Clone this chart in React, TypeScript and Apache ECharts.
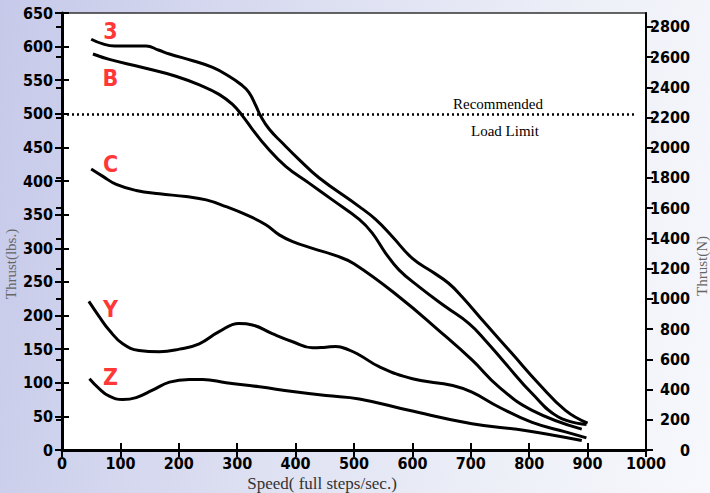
import React, { useEffect, useRef } from "react";
import * as echarts from "echarts";

// ---- data (speed in full steps/sec, thrust in lbs) ----
const speed3 = [50, 70, 90, 144, 165, 184, 224, 258, 286, 306, 320, 332, 340, 355, 377, 406, 440, 509, 537, 565, 600, 634, 662, 685, 725, 771, 816, 862, 900];
const thrust3 = [611, 604, 601, 601, 595, 589, 579, 569, 556, 544, 532, 512, 497, 477, 457, 432, 405, 362, 343, 318, 285, 265, 248, 228, 188, 143, 99, 59, 40];

const speedB = [53, 81, 138, 195, 241, 269, 292, 309, 326, 349, 383, 423, 463, 509, 531, 554, 577, 611, 657, 697, 725, 759, 805, 850, 898];
const thrustB = [589, 581, 569, 556, 541, 529, 514, 497, 477, 452, 422, 397, 372, 343, 323, 293, 268, 243, 213, 188, 163, 129, 84, 49, 38];

const speedC = [50, 70, 93, 127, 167, 212, 247, 281, 315, 349, 372, 395, 429, 469, 500, 577, 645, 702, 748, 805, 890];
const thrustC = [418, 407, 395, 386, 381, 377, 372, 362, 350, 335, 320, 310, 300, 289, 277, 228, 178, 134, 94, 59, 31];

const speedY = [46, 64, 81, 104, 132, 167, 201, 235, 269, 303, 326, 360, 395, 429, 452, 469, 491, 510, 543, 600, 669, 702, 748, 805, 862, 898];
const thrustY = [221, 198, 178, 158, 148, 146, 150, 158, 176, 188, 186, 173, 161, 152, 153, 154, 149, 141, 124, 106, 96, 86, 64, 41, 27, 18];

const speedZ = [47, 64, 81, 104, 127, 155, 184, 218, 241, 281, 338, 395, 452, 509, 594, 702, 793, 890];
const thrustZ = [106, 91, 80, 75, 78, 89, 101, 105, 105, 100, 94, 87, 81, 76, 59, 39, 29, 14];

const curveNames = ["3", "B", "C", "Y", "Z"];
const labelSpeed = [83, 83, 83, 83, 83];
const labelThrust = [623, 553, 425, 209, 108];

const loadLimit = 500;
const loadLimitEnd = 980;

const newtonTicks = [0, 200, 400, 600, 800, 1000, 1200, 1400, 1600, 1800, 2000, 2200, 2400, 2600, 2800];
const LBS_TO_N = 4.4482;

const zip = (xs: number[], ys: number[]) => xs.map((x, i) => [x, ys[i]]);

const tickFont = {
  fontFamily: "'DejaVu Sans Condensed', 'Liberation Sans Narrow', sans-serif",
  fontWeight: "bold" as const,
  color: "#000",
  formatter: (v: number) => String(Math.round(v)),
};

export default function App() {
  const ref = useRef<HTMLDivElement>(null);

  useEffect(() => {
    if (!ref.current) return;
    const chart = echarts.init(ref.current, undefined, { renderer: "svg" });

    const lineSeries = (name: string, xs: number[], ys: number[], extra: any = {}) => ({
      name,
      type: "line",
      data: zip(xs, ys),
      smooth: 0.45,
      symbol: "none",
      lineStyle: { color: "#000", width: 3 },
      xAxisIndex: 0,
      yAxisIndex: 0,
      z: 3,
      ...extra,
    });

    chart.setOption({
      animation: false,
      grid: {
        left: 62,
        right: 64,
        top: 13,
        bottom: 43,
        show: true,
        backgroundColor: "#ffffff",
        borderColor: "#333",
        borderWidth: 1.5,
      },
      xAxis: [
        {
          type: "value",
          min: 0,
          max: 1000,
          interval: 100,
          position: "bottom",
          axisLine: { onZero: false, lineStyle: { color: "#000", width: 3 } },
          axisTick: { length: 7, lineStyle: { color: "#000", width: 2 } },
          axisLabel: { ...tickFont, fontSize: 16, margin: 5 },
          splitLine: { show: false },
        },
        {
          type: "value",
          min: 0,
          max: 1000,
          interval: 100,
          position: "bottom",
          axisLine: { show: false, onZero: false },
          axisTick: { inside: true, length: 7, lineStyle: { color: "#000", width: 2 } },
          axisLabel: { show: false },
          splitLine: { show: false },
        },
      ],
      yAxis: [
        {
          type: "value",
          min: 0,
          max: 650,
          interval: 50,
          position: "left",
          axisLine: { show: true, onZero: false, lineStyle: { color: "#000", width: 3 } },
          axisTick: { show: true, length: 7, lineStyle: { color: "#000", width: 2 } },
          axisLabel: { ...tickFont, fontSize: 16, margin: 9 },
          splitLine: { show: false },
        },
        {
          type: "value",
          min: 0,
          max: 650 * LBS_TO_N,
          position: "right",
          axisLine: { show: true, onZero: false, lineStyle: { color: "#000", width: 2 } },
          axisTick: { show: true, length: 7, customValues: newtonTicks, lineStyle: { color: "#000", width: 2 } },
          axisLabel: { ...tickFont, fontSize: 16, margin: 44, align: "right", customValues: newtonTicks },
          splitLine: { show: false },
        },
        {
          type: "value",
          min: 0,
          max: 650,
          interval: 50,
          position: "left",
          axisLine: { show: false },
          axisTick: { show: true, inside: true, length: 7, lineStyle: { color: "#000", width: 2 } },
          axisLabel: { show: false },
          splitLine: { show: false },
        },
        {
          type: "value",
          min: 0,
          max: 650 * LBS_TO_N,
          position: "right",
          axisLine: { show: false },
          axisTick: { show: true, inside: true, length: 6, customValues: newtonTicks, lineStyle: { color: "#000", width: 2 } },
          axisLabel: { show: false },
          splitLine: { show: false },
        },
      ],
      series: [
        lineSeries("3", speed3, thrust3, {
          markLine: {
            silent: true,
            symbol: "none",
            label: { show: false },
            lineStyle: { color: "#000", width: 2.5, type: [2, 3] },
            data: [[{ coord: [0, loadLimit] }, { coord: [loadLimitEnd, loadLimit] }]],
          },
        }),
        lineSeries("B", speedB, thrustB),
        lineSeries("C", speedC, thrustC),
        lineSeries("Y", speedY, thrustY),
        lineSeries("Z", speedZ, thrustZ),
        {
          type: "scatter",
          xAxisIndex: 0,
          yAxisIndex: 0,
          symbolSize: 1,
          itemStyle: { color: "rgba(0,0,0,0)" },
          data: curveNames.map((n, i) => [labelSpeed[i], labelThrust[i], n]),
          label: {
            show: true,
            position: "inside",
            formatter: (p: any) => p.data[2],
            fontFamily: "'DejaVu Sans Condensed', 'Liberation Sans Narrow', sans-serif",
            fontWeight: "bold",
            fontSize: 23,
            color: "#ff0000",
          },
          z: 4,
        },
      ],
      graphic: [
        {
          type: "text",
          left: 453,
          top: 96,
          style: { text: "Recommended", font: "15px 'Liberation Serif', 'DejaVu Serif', serif", fill: "#000" },
        },
        {
          type: "text",
          left: 471,
          top: 123,
          style: { text: "Load Limit", font: "15px 'Liberation Serif', 'DejaVu Serif', serif", fill: "#000" },
        },
        {
          type: "text",
          x: 11,
          y: 264,
          rotation: Math.PI / 2,
          style: {
            text: "Thrust(lbs.)",
            font: "15px 'Liberation Serif', 'DejaVu Serif', serif",
            fill: "#666",
            align: "center",
            verticalAlign: "middle",
          },
        },
        {
          type: "text",
          x: 702,
          y: 266,
          rotation: Math.PI / 2,
          style: {
            text: "Thrust(N)",
            font: "15px 'Liberation Serif', 'DejaVu Serif', serif",
            fill: "#666",
            align: "center",
            verticalAlign: "middle",
          },
        },
        {
          type: "text",
          x: 322,
          y: 483,
          style: {
            text: "Speed( full steps/sec.)",
            font: "17px 'Liberation Serif', 'DejaVu Serif', serif",
            fill: "#333",
            align: "center",
            verticalAlign: "middle",
          },
        },
      ],
    });

    return () => chart.dispose();
  }, []);

  return (
    <div
      style={{
        position: "fixed",
        left: 0,
        top: 0,
        width: 710,
        height: 493,
        background: "linear-gradient(100deg, #c6c9e9 0%, #dcdff1 40%, #eef0f8 75%, #f7f8fc 100%)",
      }}
    >
      <div ref={ref} style={{ width: 710, height: 493 }} />
    </div>
  );
}
